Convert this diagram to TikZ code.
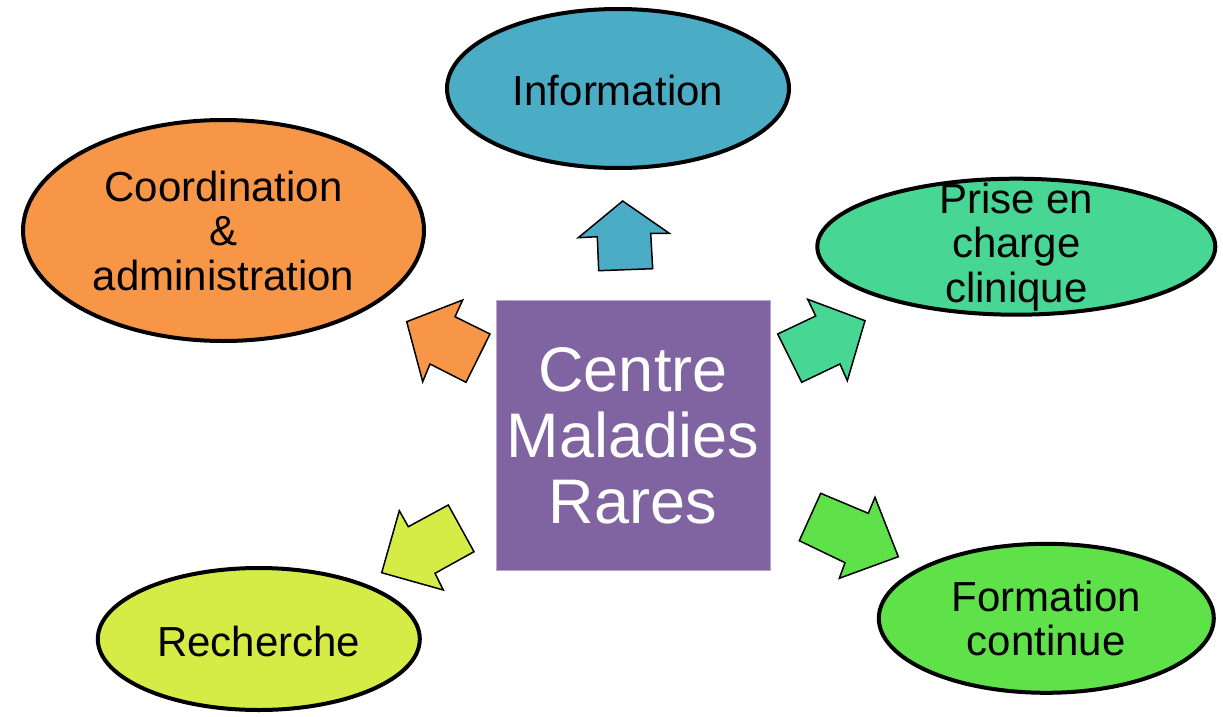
\documentclass[tikz,border=0pt]{standalone}
\usepackage{fontspec}
\setmainfont{Liberation Sans}
\usetikzlibrary{shapes.geometric}
\definecolor{cOrange}{HTML}{F79646}
\definecolor{cBlue}{HTML}{4BACC6}
\definecolor{cTeal}{HTML}{48D694}
\definecolor{cGreen}{HTML}{5FE14A}
\definecolor{cYellow}{HTML}{D5EC46}
\definecolor{cPurple}{HTML}{8064A2}
\definecolor{cPurpleLine}{HTML}{B7A8CC}
\tikzset{
  ell/.style={ellipse, draw=black, line width=4pt, inner sep=0pt},
  etxt/.style={align=center, font=\fontsize{42}{44.5}\selectfont, text=black, inner sep=0pt},
  ctxt/.style={align=center, font=\fontsize{63}{66}\selectfont, text=white, inner sep=0pt},
  blockarrow/.style={draw=black, line width=1.5pt, line join=miter}
}
\begin{document}
\begin{tikzpicture}[x=1pt,y=-1pt]
\useasboundingbox[fill=white] (0,0) rectangle (1223,717);

% ellipses
\node[ell, fill=cOrange, minimum width=401pt, minimum height=221pt] (coord) at (223.5,230.5) {};
\node[ell, fill=cBlue, minimum width=342pt, minimum height=159pt] (info) at (618,88.5) {};
\node[ell, fill=cTeal, minimum width=398pt, minimum height=136pt] (prise) at (1016.3,246.7) {};
\node[ell, fill=cYellow, minimum width=322pt, minimum height=142pt] (rech) at (258.8,639) {};
\node[ell, fill=cGreen, minimum width=335pt, minimum height=149pt] (form) at (1046.3,618.3) {};

% texts
\node[etxt] (coordt) at (coord.center) {Coordination\\\&\\administration};
\node[etxt] (infot) at ([yshift=-2pt]info.center) {Information};
\node[etxt] (priset) at (prise.center) {Prise en\\charge\\clinique};
\node[etxt] (recht) at ([yshift=-2pt]rech.center) {Recherche};
\node[etxt] (formt) at (form.center) {Formation\\continue};

% centre
\node[draw=cPurpleLine, line width=1pt, fill=cPurple, minimum width=274pt, minimum height=270pt, inner sep=0pt] (centre) at (633,435) {};
\node[ctxt] (centret) at ([yshift=-1pt]centre.center) {Centre\\Maladies\\Rares};

% block arrows
\draw[blockarrow, fill=cBlue] (622.7,201) -- (669.3,233.3) -- (650.7,233.3) -- (652.7,268.7) -- (598.7,270.7) -- (597.3,236.7) -- (578.3,237.7) -- cycle;
\draw[blockarrow, fill=cOrange] (406.7,321.7) -- (462.7,300) -- (455,316.7) -- (490,334) -- (466,382.3) -- (430,364) -- (422.7,381.7) -- cycle;
\draw[blockarrow, fill=cTeal] (865,320.7) -- (807.7,299.3) -- (815.7,316) -- (777.7,334) -- (801.7,382.3) -- (840,364) -- (847.3,380.7) -- cycle;
\draw[blockarrow, fill=cYellow] (381.7,572.7) -- (399.3,510.7) -- (408.3,526.7) -- (448.3,505) -- (474,551.7) -- (435,573.3) -- (443.3,590) -- cycle;
\draw[blockarrow, fill=cGreen] (898.3,556.7) -- (875,497.3) -- (868.3,513.3) -- (820.7,493.3) -- (799.3,540.7) -- (845,562.7) -- (839.3,578.3) -- cycle;
\end{tikzpicture}
\end{document}
